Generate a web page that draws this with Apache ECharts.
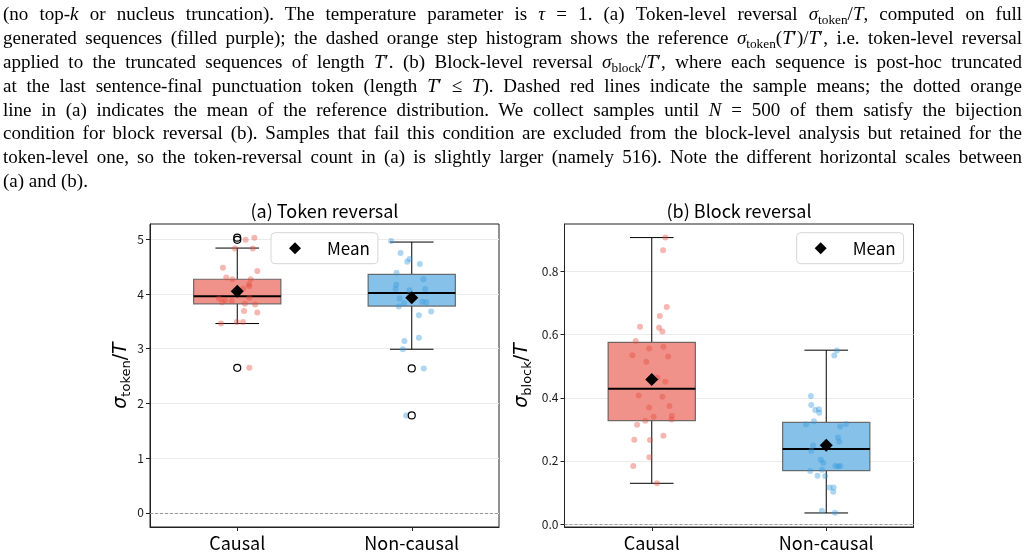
<!DOCTYPE html>
<html>
<head>
<meta charset="utf-8">
<script src="https://cdn.jsdelivr.net/npm/echarts@6/dist/echarts.min.js"></script>
<style>
html, body { margin: 0; padding: 0; background: #fff; }
#wrap { position: relative; width: 1028px; height: 555px; overflow: hidden; }
#chart { position: absolute; left: 0; top: 0; width: 1028px; height: 555px; }
#caption { position: absolute; left: 3px; top: 2px; width: 1019px; font-family: 'Liberation Serif', serif;
  font-size: 19px; line-height: 23.9px; color: #000; }
#caption div { height: 23.9px; text-align: justify; text-align-last: justify; }
#caption div.last { text-align-last: left; }
#caption sub { font-size: 0.7em; line-height: 0; vertical-align: -0.3em; }
</style>
</head>
<body>
<div id="wrap">
  <div id="chart"></div>
  <div id="caption">
    <div>(no top-<i>k</i> or nucleus truncation). The temperature parameter is <i>τ</i> = 1. (a) Token-level reversal <i>σ</i><sub>token</sub>/<i>T</i>, computed on full</div>
    <div>generated sequences (filled purple); the dashed orange step histogram shows the reference <i>σ</i><sub>token</sub>(<i>T</i>′)/<i>T</i>′, i.e. token-level reversal</div>
    <div>applied to the truncated sequences of length <i>T</i>′. (b) Block-level reversal <i>σ</i><sub>block</sub>/<i>T</i>′, where each sequence is post-hoc truncated</div>
    <div>at the last sentence-final punctuation token (length <i>T</i>′ ≤ <i>T</i>). Dashed red lines indicate the sample means; the dotted orange</div>
    <div>line in (a) indicates the mean of the reference distribution. We collect samples until <i>N</i> = 500 of them satisfy the bijection</div>
    <div>condition for block reversal (b). Samples that fail this condition are excluded from the block-level analysis but retained for the</div>
    <div>token-level one, so the token-reversal count in (a) is slightly larger (namely 516). Note the different horizontal scales between</div>
    <div class="last">(a) and (b).</div>
  </div>
</div>
<script>
// categories and tick values
var categories = ['Causal', 'Non-causal'];
var tokenTicks = [0, 1, 2, 3, 4, 5];
var blockTicks = [0, 0.2, 0.4, 0.6, 0.8];

// box stats: [category, low whisker, Q1, median, Q3, high whisker]
var tokenBox = [
    [0, 3.46, 3.82, 3.96, 4.27, 4.84],
    [1, 2.99, 3.78, 4.02, 4.36, 4.95]
];
var blockBox = [
    [0, 0.129, 0.328, 0.429, 0.576, 0.908],
    [1, 0.035, 0.169, 0.238, 0.322, 0.551]
];
// means [category, value]
var tokenMean = [[0, 4.05], [1, 3.93]];
var blockMean = [[0, 0.458], [1, 0.250]];
// outliers (open circles)
var tokenOutliers = [[0, 5.03], [0, 4.99], [0, 2.65], [1, 2.64], [1, 1.78]];

// jittered samples [category + jitter, value]
var tokenCausal = [
    [0.048, 4.99], [0.098, 5.03], [-0.013, 4.83], [0.089, 4.83], [-0.082, 4.48], [0.115, 4.42],
    [-0.063, 4.30], [-0.028, 4.27], [0.077, 4.27], [0.067, 4.18], [0.069, 4.14], [0.035, 4.10],
    [-0.105, 3.92], [-0.086, 3.85], [-0.070, 3.89], [-0.032, 3.87], [0.044, 3.82], [0.069, 3.93],
    [0.102, 3.81], [0.115, 3.66], [0.039, 3.69], [-0.003, 3.49], [0.033, 3.49], [-0.093, 3.46],
    [0.069, 2.65]
];
var tokenNonCausal = [
    [0.882, 4.97], [0.936, 4.75], [0.974, 4.59], [0.987, 4.64], [1.046, 4.55], [0.913, 4.39],
    [1.067, 4.27], [0.911, 4.17], [0.907, 4.09], [0.987, 4.07], [1.077, 4.09], [0.930, 3.92],
    [0.955, 3.83], [0.926, 3.77], [1.060, 3.86], [1.083, 3.85], [1.041, 3.61], [1.111, 3.68],
    [1.041, 3.20], [0.958, 3.14], [0.949, 2.99], [1.069, 2.64], [0.968, 1.78]
];
var blockCausal = [
    [0.078, 0.908], [0.065, 0.868], [0.086, 0.688], [0.046, 0.659], [-0.067, 0.625], [0.042, 0.622],
    [0.061, 0.610], [-0.092, 0.580], [0.067, 0.562], [-0.015, 0.556], [-0.111, 0.535], [0.094, 0.531],
    [-0.031, 0.514], [0.032, 0.464], [0.078, 0.451], [-0.075, 0.407], [0.061, 0.403], [0.101, 0.374],
    [-0.015, 0.369], [0.115, 0.343], [0.011, 0.340], [0.113, 0.331], [-0.037, 0.327], [-0.084, 0.315],
    [0.067, 0.280], [-0.100, 0.267], [-0.010, 0.266], [-0.014, 0.212], [-0.106, 0.184], [0.030, 0.129]
];
var blockNonCausal = [
    [1.061, 0.550], [1.046, 0.534], [0.912, 0.406], [0.914, 0.377], [0.937, 0.361], [0.958, 0.364],
    [0.960, 0.353], [0.929, 0.326], [0.884, 0.316], [1.113, 0.317], [1.080, 0.309], [1.067, 0.274],
    [1.075, 0.261], [0.925, 0.249], [0.914, 0.232], [0.969, 0.204], [0.983, 0.194], [1.052, 0.184],
    [1.080, 0.184], [1.069, 0.182], [0.908, 0.168], [0.975, 0.172], [0.950, 0.153], [0.994, 0.152],
    [1.019, 0.116], [1.042, 0.116], [1.040, 0.102], [0.975, 0.042], [1.050, 0.036]
];

var FONT = "'Noto Sans CJK JP', 'Noto Sans', sans-serif";
var MATH = "'DejaVu Sans', sans-serif";
var boxFill = ['#f1928a', '#85c1e9'];
var dotColor = ['#e74c3c', '#3498db'];

// box + whiskers drawn through the axis scales
function boxRender(params, api) {
    var x = api.value(0);
    var lo = api.coord([x, api.value(1)]);
    var q1 = api.coord([x, api.value(2)]);
    var md = api.coord([x, api.value(3)]);
    var q3 = api.coord([x, api.value(4)]);
    var hi = api.coord([x, api.value(5)]);
    var w = api.size([0.5, 0])[0];
    var cx = lo[0];
    var wl = { stroke: '#000', lineWidth: 1 };
    return {
        type: 'group',
        children: [
            { type: 'line', shape: { x1: cx, y1: hi[1], x2: cx, y2: q3[1] }, style: wl },
            { type: 'line', shape: { x1: cx, y1: q1[1], x2: cx, y2: lo[1] }, style: wl },
            { type: 'line', shape: { x1: cx - w / 4, y1: hi[1], x2: cx + w / 4, y2: hi[1] }, style: wl },
            { type: 'line', shape: { x1: cx - w / 4, y1: lo[1], x2: cx + w / 4, y2: lo[1] }, style: wl },
            { type: 'rect', shape: { x: cx - w / 2, y: q3[1], width: w, height: q1[1] - q3[1] },
              style: { fill: boxFill[x], stroke: 'rgba(80,80,80,0.8)', lineWidth: 1.2 } },
            { type: 'line', shape: { x1: cx - w / 2, y1: md[1], x2: cx + w / 2, y2: md[1] },
              style: { stroke: '#000', lineWidth: 2 } }
        ]
    };
}

function catAxis(gi) {
    return {
        type: 'category', gridIndex: gi, data: categories, boundaryGap: true,
        axisLine: { show: true, onZero: false, lineStyle: { color: '#222' } },
        axisTick: { show: true, alignWithLabel: true, length: 4, lineStyle: { color: '#222' } },
        axisLabel: { fontFamily: FONT, fontSize: 18, color: '#000', margin: 7 },
        splitLine: { show: false }
    };
}
function posAxis(gi) {
    return { type: 'value', gridIndex: gi, min: -0.5, max: 1.5, show: false,
             axisLine: { onZero: false } };
}
function valAxis(gi, min, max, ticks, sub, gap, digits) {
    return {
        type: 'value', gridIndex: gi, min: min, max: max,
        axisLine: { show: true, onZero: false, lineStyle: { color: '#222' } },
        axisTick: { show: true, length: 4, customValues: ticks, lineStyle: { color: '#222' } },
        axisLabel: { customValues: ticks, fontFamily: FONT, fontSize: 12, color: '#1a1a1a', margin: 6,
            formatter: function (v) { return v.toFixed(digits); } },
        splitLine: { show: true, lineStyle: { color: '#ebebeb', width: 1 } },
        name: '{s|σ}{b|' + sub + '}{n|/}{s|T}',
        nameLocation: 'middle', nameGap: gap,
        nameTextStyle: {
            rich: {
                s: { fontFamily: MATH, fontStyle: 'italic', fontSize: 19, lineHeight: 24, color: '#000' },
                n: { fontFamily: MATH, fontSize: 19, lineHeight: 24, color: '#000' },
                b: { fontFamily: MATH, fontSize: 13, lineHeight: 13, verticalAlign: 'bottom', color: '#000' }
            }
        }
    };
}

function panelSeries(gi, box, mean, outliers, causalPts, nonCausalPts) {
    var list = [
        { type: 'custom', name: 'box' + gi, xAxisIndex: gi * 2 + 1, yAxisIndex: gi,
          renderItem: boxRender, encode: { x: 0, y: [1, 2, 3, 4, 5] }, data: box, z: 2, silent: true,
          markLine: { silent: true, symbol: 'none', label: { show: false },
              lineStyle: { color: '#9a9a9a', type: [3, 2], width: 1 }, data: [{ yAxis: 0 }] } },
        { type: 'scatter', name: 'pts' + gi + 'a', xAxisIndex: gi * 2 + 1, yAxisIndex: gi,
          data: causalPts, symbolSize: 6, itemStyle: { color: dotColor[0], opacity: 0.4 }, z: 3, silent: true },
        { type: 'scatter', name: 'pts' + gi + 'b', xAxisIndex: gi * 2 + 1, yAxisIndex: gi,
          data: nonCausalPts, symbolSize: 6, itemStyle: { color: dotColor[1], opacity: 0.4 }, z: 3, silent: true }
    ];
    if (outliers.length) {
        list.push({ type: 'scatter', name: 'out' + gi, xAxisIndex: gi * 2 + 1, yAxisIndex: gi,
            data: outliers, symbol: 'circle', symbolSize: 7,
            itemStyle: { color: 'rgba(0,0,0,0)', borderColor: '#000', borderWidth: 1.2, opacity: 1 },
            z: 4, silent: true });
    }
    list.push({ type: 'scatter', name: 'Mean', xAxisIndex: gi * 2 + 1, yAxisIndex: gi,
        data: mean, symbol: 'diamond', symbolSize: 13, itemStyle: { color: '#000', opacity: 1 },
        z: 5, silent: true });
    return list;
}

function legendAt(left) {
    return {
        data: ['Mean'], left: left, top: 232.7, selectedMode: false,
        icon: 'diamond', itemWidth: 12, itemHeight: 12,
        itemStyle: { color: '#000', opacity: 1 },
        padding: [7, 8, 7, 18],
        backgroundColor: 'rgba(255,255,255,0.8)', borderColor: '#d6d6d6', borderWidth: 1, borderRadius: 4,
        textStyle: { fontFamily: FONT, fontSize: 17, color: '#000', padding: [0, 0, 0, 21] }
    };
}

var option = {
    animation: false,
    title: [
        { text: '(a) Token reversal', left: 324.5, top: 202, padding: 0, textAlign: 'center',
          textStyle: { fontFamily: FONT, fontSize: 18, fontWeight: 'normal', color: '#000' } },
        { text: '(b) Block reversal', left: 739, top: 202, padding: 0, textAlign: 'center',
          textStyle: { fontFamily: FONT, fontSize: 18, fontWeight: 'normal', color: '#000' } }
    ],
    legend: [legendAt(271), legendAt(796.7)],
    grid: [
        { left: 150, top: 224, width: 349, height: 303, show: true, borderColor: '#222', borderWidth: 1 },
        { left: 564.5, top: 224, width: 349, height: 303, show: true, borderColor: '#222', borderWidth: 1 }
    ],
    xAxis: [catAxis(0), posAxis(0), catAxis(1), posAxis(1)],
    yAxis: [
        valAxis(0, -0.26, 5.28, tokenTicks, 'token', 16, 0),
        valAxis(1, -0.0095, 0.951, blockTicks, 'block', 30, 1)
    ],
    series: [].concat(
        panelSeries(0, tokenBox, tokenMean, tokenOutliers, tokenCausal, tokenNonCausal),
        panelSeries(1, blockBox, blockMean, [], blockCausal, blockNonCausal)
    )
};

var chart = echarts.init(document.getElementById('chart'));
chart.setOption(option);
</script>
</body>
</html>
